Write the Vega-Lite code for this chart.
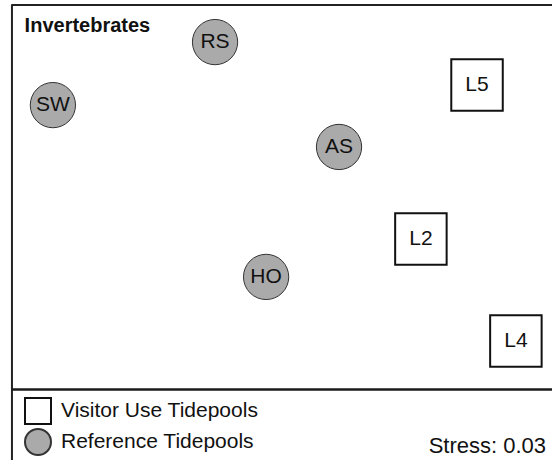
{
  "$schema": "https://vega.github.io/schema/vega-lite/v6.json",
  "width": 552,
  "height": 460,
  "autosize": {"type": "none"},
  "padding": 0,
  "background": "white",
  "config": {"view": {"stroke": null}, "font": "Liberation Sans"},
  "layer": [
    {
      "data": {"values": [{}]},
      "mark": {"type": "rule", "strokeWidth": 2, "color": "#222222"},
      "encoding": {
        "x": {"datum": -1.148, "type": "quantitative", "scale": {"domain": [-1.2, 1.2], "nice": false, "zero": false}, "axis": null},
        "x2": {"datum": 1.2},
        "y": {"datum": 0.978, "type": "quantitative", "scale": {"domain": [-1, 1], "nice": false, "zero": false}, "axis": null}
      }
    },
    {
      "data": {"values": [{}]},
      "mark": {"type": "rule", "strokeWidth": 2, "color": "#222222"},
      "encoding": {
        "x": {"datum": -1.148, "type": "quantitative", "scale": {"domain": [-1.2, 1.2], "nice": false, "zero": false}, "axis": null},
        "y": {"datum": 0.982, "type": "quantitative", "scale": {"domain": [-1, 1], "nice": false, "zero": false}, "axis": null},
        "y2": {"datum": -1}
      }
    },
    {
      "data": {"values": [{}]},
      "mark": {"type": "rule", "strokeWidth": 2.5, "color": "#1a1a1a"},
      "encoding": {
        "x": {"datum": -1.148, "type": "quantitative", "scale": {"domain": [-1.2, 1.2], "nice": false, "zero": false}, "axis": null},
        "x2": {"datum": 1.2},
        "y": {"datum": -0.693, "type": "quantitative", "scale": {"domain": [-1, 1], "nice": false, "zero": false}, "axis": null}
      }
    },
    {
      "data": {"values": [{}]},
      "mark": {"type": "text", "text": "Invertebrates", "fontSize": 20, "fontWeight": "bold", "align": "left", "baseline": "alphabetic", "color": "#111111"},
      "encoding": {
        "x": {"datum": -1.093, "type": "quantitative", "scale": {"domain": [-1.2, 1.2], "nice": false, "zero": false}, "axis": null},
        "y": {"datum": 0.861, "type": "quantitative", "scale": {"domain": [-1, 1], "nice": false, "zero": false}, "axis": null}
      }
    },
    {
      "data": {"values": [{}]},
      "mark": {"type": "text", "text": "Stress: 0.03", "fontSize": 22, "align": "right", "baseline": "alphabetic", "color": "#111111"},
      "encoding": {
        "x": {"datum": 1.174, "type": "quantitative", "scale": {"domain": [-1.2, 1.2], "nice": false, "zero": false}, "axis": null},
        "y": {"datum": -0.970, "type": "quantitative", "scale": {"domain": [-1, 1], "nice": false, "zero": false}, "axis": null}
      }
    },
    {
      "data": {"values": [
        {"site": "RS", "type": "Reference Tidepools", "x": -0.265, "y": 0.817},
        {"site": "SW", "type": "Reference Tidepools", "x": -0.970, "y": 0.543},
        {"site": "AS", "type": "Reference Tidepools", "x": 0.274, "y": 0.361},
        {"site": "HO", "type": "Reference Tidepools", "x": -0.043, "y": -0.204},
        {"site": "L5", "type": "Visitor Use Tidepools", "x": 0.874, "y": 0.630},
        {"site": "L2", "type": "Visitor Use Tidepools", "x": 0.630, "y": -0.039},
        {"site": "L4", "type": "Visitor Use Tidepools", "x": 1.043, "y": -0.483}
      ]},
      "layer": [
        {
          "transform": [{"filter": "datum.type === 'Reference Tidepools'"}],
          "mark": {"type": "point", "filled": true, "size": 2050, "strokeWidth": 1, "opacity": 1},
          "encoding": {
            "x": {"field": "x", "type": "quantitative", "scale": {"domain": [-1.2, 1.2], "nice": false, "zero": false}, "axis": null},
            "y": {"field": "y", "type": "quantitative", "scale": {"domain": [-1, 1], "nice": false, "zero": false}, "axis": null},
            "shape": {"field": "type", "type": "nominal", "scale": {"domain": ["Visitor Use Tidepools", "Reference Tidepools"], "range": ["square", "circle"]},
              "legend": {"title": null, "orient": "none", "legendX": 24, "legendY": 397, "padding": 0,
                "symbolSize": 676, "symbolStrokeWidth": 2, "labelFontSize": 21, "labelFont": "Liberation Sans", "labelColor": "#111111",
                "labelOffset": 9, "labelLimit": 400, "rowPadding": -3.5, "symbolOpacity": 1,
                "encode": {"symbols": {"update": {
                  "size": {"signal": "datum.value === 'Reference Tidepools' ? 491 : 676"},
                  "strokeWidth": {"signal": "datum.value === 'Reference Tidepools' ? 1.2 : 2"}
                }}}}},
            "fill": {"field": "type", "type": "nominal", "scale": {"domain": ["Visitor Use Tidepools", "Reference Tidepools"], "range": ["#ffffff", "#aaaaaa"]}, "legend": {"title": null}},
            "stroke": {"field": "type", "type": "nominal", "scale": {"domain": ["Visitor Use Tidepools", "Reference Tidepools"], "range": ["#111111", "#333333"]}, "legend": {"title": null}}
          }
        },
        {
          "transform": [{"filter": "datum.type === 'Visitor Use Tidepools'"}],
          "mark": {"type": "point", "filled": true, "size": 2650, "strokeWidth": 2, "opacity": 1},
          "encoding": {
            "x": {"field": "x", "type": "quantitative", "scale": {"domain": [-1.2, 1.2], "nice": false, "zero": false}, "axis": null},
            "y": {"field": "y", "type": "quantitative", "scale": {"domain": [-1, 1], "nice": false, "zero": false}, "axis": null},
            "shape": {"field": "type", "type": "nominal", "scale": {"domain": ["Visitor Use Tidepools", "Reference Tidepools"], "range": ["square", "circle"]}},
            "fill": {"field": "type", "type": "nominal", "scale": {"domain": ["Visitor Use Tidepools", "Reference Tidepools"], "range": ["#ffffff", "#aaaaaa"]}},
            "stroke": {"field": "type", "type": "nominal", "scale": {"domain": ["Visitor Use Tidepools", "Reference Tidepools"], "range": ["#111111", "#333333"]}}
          }
        },
        {
          "mark": {"type": "text", "fontSize": 21, "align": "center", "baseline": "middle", "color": "#111111"},
          "encoding": {
            "x": {"field": "x", "type": "quantitative", "scale": {"domain": [-1.2, 1.2], "nice": false, "zero": false}, "axis": null},
            "y": {"field": "y", "type": "quantitative", "scale": {"domain": [-1, 1], "nice": false, "zero": false}, "axis": null},
            "text": {"field": "site"}
          }
        }
      ]
    }
  ]
}
